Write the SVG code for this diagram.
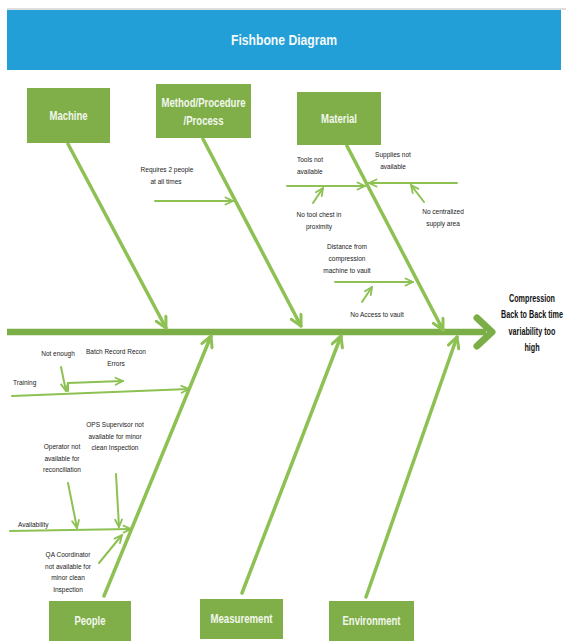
<svg xmlns="http://www.w3.org/2000/svg" width="566" height="641" viewBox="0 0 566 641">
<style>
.box{fill:#80af4a;}
.lbl{font-family:"Liberation Sans Narrow","Liberation Sans",Arial,sans-serif;font-size:12px;font-weight:bold;fill:#f2f7ec;text-anchor:middle;}
.sm{font-family:"Liberation Sans",Arial,sans-serif;font-size:6.5px;fill:#222;text-anchor:middle;}
.sml{font-family:"Liberation Sans",Arial,sans-serif;font-size:6.5px;fill:#222;}
.eff{font-family:"Liberation Sans",Arial,sans-serif;font-size:10px;font-weight:bold;fill:#111;text-anchor:middle;}
.bone{fill:none;stroke:#8dc153;stroke-width:3.5;stroke-linecap:round;marker-end:url(#ah);}
.sub{fill:none;stroke:#8dc153;stroke-width:2;stroke-linecap:round;marker-end:url(#ahs);}
</style>
<defs>
<marker id="ah" viewBox="0 0 14 14" refX="12.5" refY="7" markerWidth="14" markerHeight="14" markerUnits="userSpaceOnUse" orient="auto"><path d="M2,1.5 L12.5,7 L2,12.5" fill="none" stroke="#8dc153" stroke-width="3" stroke-linecap="round" stroke-linejoin="round"/></marker>
<marker id="ahs" viewBox="0 0 10 10" refX="9" refY="5" markerWidth="10" markerHeight="10" markerUnits="userSpaceOnUse" orient="auto"><path d="M1.5,1.5 L9,5 L1.5,8.5" fill="none" stroke="#8dc153" stroke-width="1.8" stroke-linecap="round" stroke-linejoin="round"/></marker>
</defs>
<rect width="566" height="641" fill="#fff"/>
<line x1="7" y1="9" x2="566" y2="9" stroke="#bbb" stroke-width="1"/>
<g id="header">
<rect x="7" y="10" width="554" height="60" fill="#229fd6"/>
<text x="284" y="45" font-family="Liberation Sans Narrow,Liberation Sans,Arial,sans-serif" font-size="15" font-weight="bold" fill="#f4f9fc" text-anchor="middle" textLength="106" lengthAdjust="spacingAndGlyphs">Fishbone Diagram</text>
</g>
<g id="connectors">
<line x1="7" y1="332" x2="486" y2="332" stroke="#7bae47" stroke-width="6.5"/>
<path d="M477,318 L492,332 L477,346" fill="none" stroke="#7bae47" stroke-width="7" stroke-linecap="round" stroke-linejoin="round"/>
<path class="bone" d="M68,144 L166,328"/>
<path class="bone" d="M203,139 L301,326"/>
<path class="bone" d="M347,146 L443,330"/>
<path class="bone" d="M104,596 L211,336"/>
<path class="bone" d="M242,593 L341,336"/>
<path class="bone" d="M366,597 L457,337"/>
<path class="sub" d="M155,201 L233,201"/>
<path class="sub" d="M287,186 L365,186"/>
<path class="sub" d="M457,183 L369,183"/>
<path class="sub" d="M313,203 L323,188"/>
<path class="sub" d="M424,202 L411,185"/>
<path class="sub" d="M335,282 L413,282"/>
<path class="sub" d="M362,302 L372,287"/>
<path class="sub" d="M12,396 L189,389"/>
<path class="sub" d="M61,367 L66,391"/>
<path class="sub" d="M68,391 L68,383 L123,381"/>
<path class="sub" d="M68,483 L77,528"/>
<path class="sub" d="M116,474 L119,527"/>
<path class="sub" d="M10,531 L131,529"/>
<path class="sub" d="M99,563 L122,535"/>
</g>
<g id="machine"><rect class="box" x="27" y="88" width="83" height="55"/><text class="lbl" x="68.5" y="120" textLength="38" lengthAdjust="spacingAndGlyphs">Machine</text></g>
<g id="method"><rect class="box" x="156" y="84" width="95" height="54"/><text class="lbl" x="203.5" y="107" textLength="84" lengthAdjust="spacingAndGlyphs">Method/Procedure</text><text class="lbl" x="203.5" y="125" textLength="40" lengthAdjust="spacingAndGlyphs">/Process</text></g>
<g id="material"><rect class="box" x="297" y="92" width="84" height="53"/><text class="lbl" x="339" y="123" textLength="36" lengthAdjust="spacingAndGlyphs">Material</text></g>
<g id="people"><rect class="box" x="49" y="601" width="82" height="40"/><text class="lbl" x="90" y="625" textLength="31" lengthAdjust="spacingAndGlyphs">People</text></g>
<g id="measurement"><rect class="box" x="200" y="599" width="83" height="40"/><text class="lbl" x="241.5" y="623" textLength="62" lengthAdjust="spacingAndGlyphs">Measurement</text></g>
<g id="environment"><rect class="box" x="329" y="601" width="85" height="40"/><text class="lbl" x="371.5" y="625" textLength="58" lengthAdjust="spacingAndGlyphs">Environment</text></g>
<g id="effect" transform="translate(532,0) scale(0.72,1)">
<text class="eff" x="0" y="302">Compression</text>
<text class="eff" x="0" y="318">Back to Back time</text>
<text class="eff" x="0" y="335">variability too</text>
<text class="eff" x="0" y="351">high</text>
</g>
<g id="causes">
<text class="sm" x="167" y="172">Requires 2 people</text>
<text class="sm" x="166" y="184">at all times</text>
<text class="sml" x="297" y="162">Tools not</text>
<text class="sml" x="297" y="174">available</text>
<text class="sm" x="393" y="157">Supplies not</text>
<text class="sm" x="393" y="169">available</text>
<text class="sm" x="319" y="217">No tool chest in</text>
<text class="sm" x="319" y="229">proximity</text>
<text class="sm" x="443" y="214">No centralized</text>
<text class="sm" x="443" y="226">supply area</text>
<text class="sm" x="347" y="249">Distance from</text>
<text class="sm" x="347" y="261">compression</text>
<text class="sm" x="347" y="273">machine to vault</text>
<text class="sm" x="377" y="317">No  Access to vault</text>
<text class="sm" x="58" y="356">Not enough</text>
<text class="sm" x="116" y="354">Batch Record Recon</text>
<text class="sm" x="116" y="366">Errors</text>
<text class="sml" x="13" y="385">Training</text>
<text class="sm" x="115" y="427">OPS Supervisor not</text>
<text class="sm" x="115" y="439">available  for minor</text>
<text class="sm" x="115" y="450">clean Inspection</text>
<text class="sm" x="62" y="449">Operator  not</text>
<text class="sm" x="62" y="461">available for</text>
<text class="sm" x="62" y="472">reconciliation</text>
<text class="sml" x="18" y="527">Availability</text>
<text class="sm" x="68" y="557">QA Coordinator</text>
<text class="sm" x="68" y="569">not available for</text>
<text class="sm" x="68" y="580">minor clean</text>
<text class="sm" x="68" y="592">Inspection</text>
</g>
</svg>
